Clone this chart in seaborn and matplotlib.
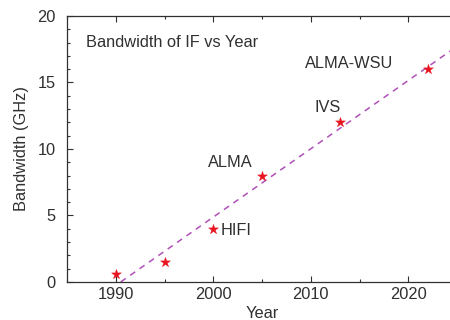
import numpy as np
import pandas as pd
import matplotlib
matplotlib.use("Agg")
import matplotlib.pyplot as plt
import seaborn as sns
from matplotlib.ticker import MultipleLocator

# data
years = [1990, 1995, 2000, 2005, 2013, 2022]
bandwidth = [0.6, 1.5, 4.0, 8.0, 12.0, 16.0]
labels = ["", "", "HIFI", "ALMA", "IVS", "ALMA-WSU"]
label_pos = {"HIFI": (2000.7, 3.9), "ALMA": (1999.5, 9.0),
             "IVS": (2010.4, 13.15), "ALMA-WSU": (2009.4, 16.4)}

df = pd.DataFrame({"Year": years, "Bandwidth": bandwidth})

sns.set_theme(style="ticks")
plt.rcParams["font.family"] = ["Liberation Sans", "DejaVu Sans"]
TXT = "#303030"
FS = 11.8

fig = plt.figure(figsize=(4.5, 3.2), dpi=100)
ax = fig.add_axes([0.149, 0.119, (457 - 67) / 450, 0.831])

# linear trend from the points
slope, icpt = np.polyfit(df["Year"], df["Bandwidth"], 1)
x0 = -icpt / slope
xs = np.array([x0, 2025])
ax.plot(xs, slope * xs + icpt, color="#b050b8", lw=1.1, ls=(0, (4, 3.5)))

sns.scatterplot(data=df, x="Year", y="Bandwidth", marker="*", s=55,
                color="#e8141e", edgecolor="#e8141e", linewidth=0.3,
                ax=ax, zorder=3, clip_on=False)

for lab in labels:
    if lab:
        ax.text(*label_pos[lab], lab, fontsize=FS, color=TXT, va="center")

ax.text(0.049, 0.902, "Bandwidth of IF vs Year", transform=ax.transAxes,
        fontsize=FS, color=TXT, va="center")

ax.set_xlim(1985, 2025)
ax.set_ylim(0, 20)
ax.xaxis.set_major_locator(MultipleLocator(10))
ax.xaxis.set_minor_locator(MultipleLocator(5))
ax.yaxis.set_major_locator(MultipleLocator(5))
ax.yaxis.set_minor_locator(MultipleLocator(1))
ax.tick_params(which="both", direction="in", top=True, right=False,
               colors=TXT, labelsize=FS, width=0.8)
ax.tick_params(which="major", length=4)
ax.tick_params(which="minor", length=2.5)
ax.tick_params(axis="y", pad=8)
ax.tick_params(axis="x", pad=4)
ax.set_xlabel("Year", fontsize=FS, color=TXT, labelpad=2.5)
ax.set_ylabel("Bandwidth (GHz)", fontsize=FS, color=TXT, labelpad=6)
for s in ["left", "bottom", "top"]:
    ax.spines[s].set_color(TXT)
    ax.spines[s].set_linewidth(0.9)
ax.spines["right"].set_visible(False)

fig.savefig("out.png", dpi=100)
